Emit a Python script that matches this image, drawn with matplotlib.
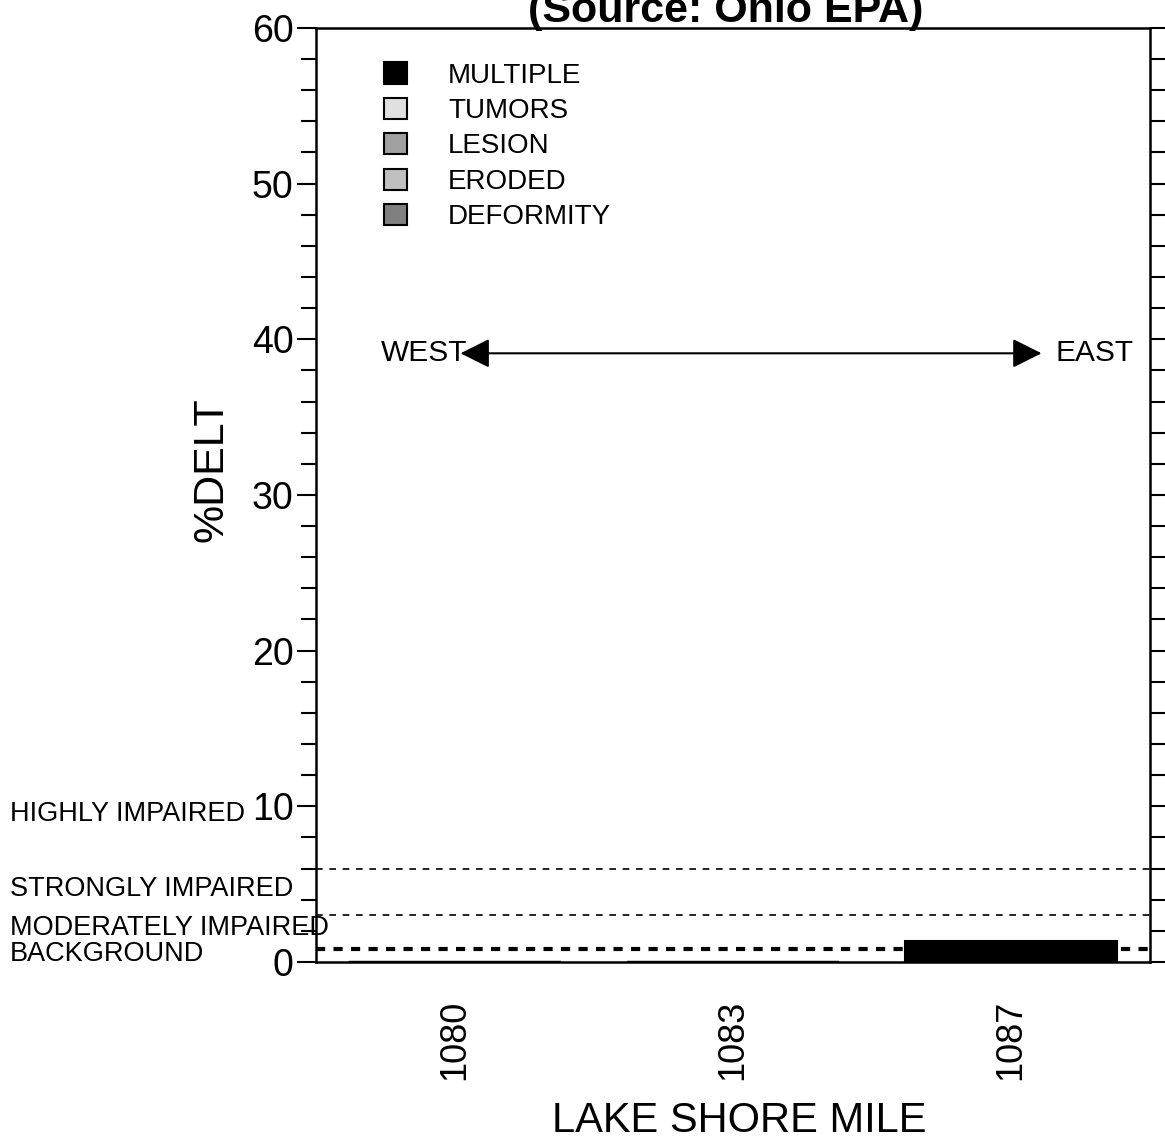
import matplotlib
matplotlib.use("Agg")
import matplotlib.pyplot as plt
from matplotlib.patches import Patch
from matplotlib.ticker import MultipleLocator
import numpy as np

plt.rcParams['font.family'] = ['Liberation Sans', 'DejaVu Sans']

# data
miles = ['1080', '1083', '1087']
deformity = [0.0, 0.0, 0.0]
eroded = [0.0, 0.0, 0.0]
lesion = [0.0, 0.0, 0.0]
tumors = [0.0, 0.0, 0.0]
multiple = [0.0, 0.0, 1.35]

series = ['MULTIPLE', 'TUMORS', 'LESION', 'ERODED', 'DEFORMITY']
colors = ['#000000', '#e0e0e0', '#a0a0a0', '#c0c0c0', '#808080']

# impairment thresholds
strongly = 6.0
moderately = 3.0
background = 0.8

fig = plt.figure(figsize=(11.65, 11.46), dpi=100)
ax = fig.add_axes([0.2712, 0.1606, 0.7159, 0.815])

x = np.arange(len(miles))
stack = [deformity, eroded, lesion, tumors, multiple]
stack_cols = ['#808080', '#c0c0c0', '#a0a0a0', '#e0e0e0', '#000000']
bottom = np.zeros(len(miles))
for vals, c in zip(stack, stack_cols):
    ax.bar(x, vals, width=0.76, bottom=bottom, color=c, edgecolor='black', linewidth=1.5)
    bottom += np.array(vals)

ax.axhline(strongly, color='black', lw=1.2, ls=(0, (4, 4)))
ax.axhline(moderately, color='black', lw=1.2, ls=(0, (4, 4)))
ax.axhline(background, color='black', lw=3, ls=(0, (2.2, 2)))

ax.set_xlim(-0.5, 2.5)
ax.set_ylim(0, 60)
ax.set_xticks(x)
ax.set_xticklabels(miles, rotation=90, fontsize=26)
ax.tick_params(axis='x', length=0, pad=27)
ax.yaxis.set_major_locator(MultipleLocator(10))
ax.yaxis.set_minor_locator(MultipleLocator(2))
ax.tick_params(axis='y', which='both', direction='out', right=True, width=1.5, labelsize=27, pad=2)
ax.tick_params(axis='y', which='major', length=14)
ax.tick_params(axis='y', which='minor', length=11)
for s in ax.spines.values():
    s.set_linewidth(1.8)

ax.set_ylabel('%DELT', fontsize=31)
ax.yaxis.set_label_coords(-0.101, 0.527)
ax.set_xlabel('LAKE SHORE MILE', fontsize=30)
ax.xaxis.set_label_coords(0.508, -0.149)

# left side class labels
for label, ypix in [('HIGHLY IMPAIRED', 814), ('STRONGLY IMPAIRED', 889),
                    ('MODERATELY IMPAIRED', 928), ('BACKGROUND', 954)]:
    fig.text(10 / 1165, 1 - ypix / 1146, label, fontsize=19.5, va='center')

# west / east arrow
ax.annotate('', xy=(0.02, 39.1), xytext=(2.11, 39.1),
            arrowprops=dict(arrowstyle='<|-|>', color='black', lw=1.5,
                            mutation_scale=45, shrinkA=0, shrinkB=0))
ax.text(0.045, 39.1, 'WEST', fontsize=21.5, ha='right', va='center')
ax.text(2.16, 39.1, 'EAST', fontsize=21.5, ha='left', va='center')

handles = [Patch(facecolor=c, edgecolor='black', linewidth=1.5) for c in colors]
ax.legend(handles, series, loc='upper left', bbox_to_anchor=(0.052, 0.99),
          frameon=False, fontsize=20, handlelength=0.8, handleheight=0.8,
          handletextpad=1.5, labelspacing=0.33)

fig.text(0.623, 1 - 22 / 1146, '(Source: Ohio EPA)', fontsize=31, fontweight='bold',
         ha='center', va='baseline')

fig.savefig('out.png', dpi=100)
